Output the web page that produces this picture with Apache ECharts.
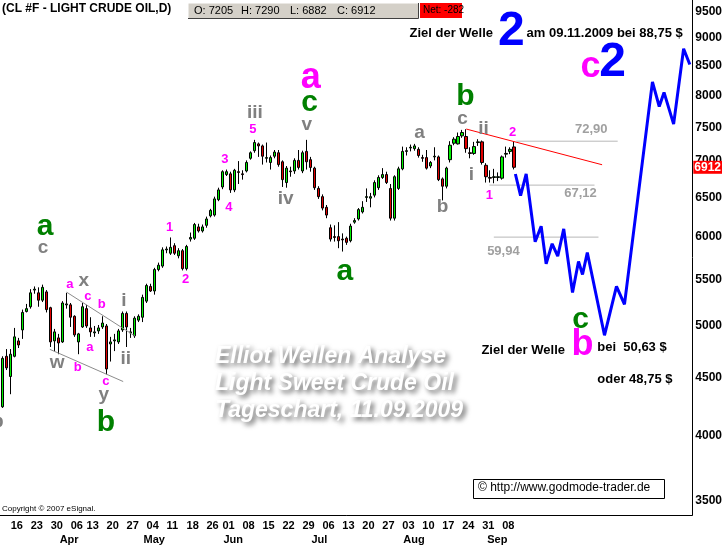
<!DOCTYPE html>
<html><head><meta charset="utf-8">
<script src="https://cdn.jsdelivr.net/npm/echarts@6/dist/echarts.min.js"></script>
<style>html,body{margin:0;padding:0;background:#fff}#c{width:725px;height:545px}</style>
</head><body><div id="c"></div>
<script>
// ---------- data ----------
const dates = ["2009-03-12","2009-03-13","2009-03-16","2009-03-17","2009-03-18","2009-03-19","2009-03-20","2009-03-23","2009-03-24","2009-03-25","2009-03-26","2009-03-27","2009-03-30","2009-03-31","2009-04-01","2009-04-02","2009-04-03","2009-04-06","2009-04-07","2009-04-08","2009-04-09","2009-04-13","2009-04-14","2009-04-15","2009-04-16","2009-04-17","2009-04-20","2009-04-21","2009-04-22","2009-04-23","2009-04-24","2009-04-27","2009-04-28","2009-04-29","2009-04-30","2009-05-01","2009-05-04","2009-05-05","2009-05-06","2009-05-07","2009-05-08","2009-05-11","2009-05-12","2009-05-13","2009-05-14","2009-05-15","2009-05-18","2009-05-19","2009-05-20","2009-05-21","2009-05-22","2009-05-26","2009-05-27","2009-05-28","2009-05-29","2009-06-01","2009-06-02","2009-06-03","2009-06-04","2009-06-05","2009-06-08","2009-06-09","2009-06-10","2009-06-11","2009-06-12","2009-06-15","2009-06-16","2009-06-17","2009-06-18","2009-06-19","2009-06-22","2009-06-23","2009-06-24","2009-06-25","2009-06-26","2009-06-29","2009-06-30","2009-07-01","2009-07-02","2009-07-03","2009-07-06","2009-07-07","2009-07-08","2009-07-09","2009-07-10","2009-07-13","2009-07-14","2009-07-15","2009-07-16","2009-07-17","2009-07-20","2009-07-21","2009-07-22","2009-07-23","2009-07-24","2009-07-27","2009-07-28","2009-07-29","2009-07-30","2009-07-31","2009-08-03","2009-08-04","2009-08-05","2009-08-06","2009-08-07","2009-08-10","2009-08-11","2009-08-12","2009-08-13","2009-08-14","2009-08-17","2009-08-18","2009-08-19","2009-08-20","2009-08-21","2009-08-24","2009-08-25","2009-08-26","2009-08-27","2009-08-28","2009-08-31","2009-09-01","2009-09-02","2009-09-03","2009-09-04","2009-09-08","2009-09-09","2009-09-10","2009-09-11"];
const open  = [4240,4700,4510,4700,4850,4960,5150,5200,5380,5350,5270,5360,5190,4850,4880,4840,5220,5220,5100,4840,4990,5180,4980,4930,4950,4990,5000,4820,4850,4840,4960,5130,4930,4900,5060,5090,5260,5420,5370,5610,5650,5840,5800,5890,5770,5830,5620,5970,5980,6120,6070,6140,6260,6270,6470,6640,6810,6820,6600,6850,6820,6860,7040,7150,7250,7220,7040,6980,7070,7120,6990,6700,6860,6860,7010,6860,7140,7020,6900,6620,6510,6370,6110,6000,6000,5970,5980,5950,6180,6220,6310,6500,6490,6530,6630,6770,6810,6620,6230,6620,6890,7140,7190,7180,7170,7050,7050,6930,7060,7060,6750,6650,7020,7260,7250,7370,7360,7120,7110,7270,7280,6940,6770,6770,6770,6760,7100,7140,7205];
const high  = [4700,4770,4770,4980,4880,5170,5230,5390,5420,5410,5440,5380,5200,4970,4920,5260,5350,5240,5110,4930,5240,5220,5090,5000,5010,5100,5020,4890,4920,4970,5150,5150,4980,5100,5120,5330,5450,5450,5630,5690,5870,5880,5990,5920,5860,5850,5900,6050,6170,6160,6150,6250,6350,6510,6630,6870,6880,6850,6890,7000,6870,7010,7140,7310,7270,7240,7270,7080,7160,7160,7010,6930,6920,7040,7160,7150,7310,7060,6920,6650,6540,6400,6150,6140,6180,6040,6000,6160,6230,6360,6450,6620,6560,6730,6800,6900,6850,6680,6800,6920,7210,7200,7240,7250,7200,7090,7160,7000,7200,7080,6770,6920,7290,7350,7420,7460,7470,7200,7280,7320,7300,6970,6870,6890,6840,7080,7210,7200,7290];
const low   = [4230,4570,4350,4690,4780,4870,5140,5180,5340,5200,5250,5140,4790,4750,4720,4830,5180,4990,4890,4720,4980,4980,4890,4890,4920,4970,4530,4650,4750,4820,4940,4790,4880,4880,5040,5040,5240,5360,5330,5590,5630,5800,5780,5780,5740,5600,5600,5940,5960,6050,6050,6110,6240,6250,6450,6610,6790,6560,6570,6680,6740,6840,7020,7120,7060,6950,6980,6880,7040,6920,6640,6630,6780,6820,6880,6830,6880,6850,6600,6480,6330,6230,5940,5940,5860,5820,5900,5930,6160,6200,6290,6440,6370,6500,6600,6750,6680,6200,6200,6600,6870,7080,7140,7150,7050,6990,6880,6900,7010,6720,6460,6620,6980,7230,7240,7340,7120,7040,7090,7220,6950,6700,6700,6690,6720,6740,7050,7100,6882];
const close = [4680,4590,4720,4890,4810,5140,5180,5350,5390,5270,5410,5170,4840,4940,4830,5240,5230,5090,4910,4920,5200,5000,4940,4940,4980,5030,4580,4840,4860,4950,5130,4990,4940,5080,5100,5300,5430,5370,5610,5660,5840,5850,5870,5800,5830,5620,5880,5990,6150,6070,6120,6220,6330,6480,6600,6850,6850,6600,6870,6840,6810,6980,7120,7270,7220,7070,7050,7050,7130,6950,6740,6900,6850,7010,6910,7120,6990,6910,6630,6510,6360,6270,5970,5990,5950,5960,5930,6130,6200,6340,6370,6510,6510,6700,6770,6810,6700,6230,6780,6890,7140,7150,7200,7220,7080,7040,6900,6980,7070,6740,6650,6900,7230,7320,7360,7420,7180,7110,7210,7280,6980,6780,6760,6780,6780,7060,7110,7170,6912];
const lastPrice = 6912;
const yTicks = [3500,4000,4500,5000,5500,6000,6500,7000,7500,8000,8500,9000,9500];
const monthNames = ["Jan","Feb","Mar","Apr","May","Jun","Jul","Aug","Sep","Oct","Nov","Dec"];

// projected path (bar index, price)
const projIdx   = [128.3,129.6,131.0,133.25,134.75,136.0,137.5,138.9,140.4,142.6,144.1,145.1,146.3,150.6,153.6,155.6,162.6,164.3,165.5,167.9,170.4,171.95];
const projPrice = [6818,6524,6818,5937,6129,5677,5913,5765,6096,5354,5704,5554,5808,4906,5420,5225,8229,7825,8053,7548,8804,8524];
// helper lines
const chanUpIdx = [16.0,33.1],  chanUpPrice = [5357,4899];
const chanLoIdx = [11.8,30.15], chanLoPrice = [4767,4464];
const trendIdx  = [116,150],    trendPrice  = [7473,6948];
const fibLevels = [7290,6665,5994];
const fibFrom   = [128.5,121.8,122.9];
const fibTo     = [153.9,148.1,149.1];

// annotations
const annText  = ["b","a","c","a","x","c","b","i","a","w","b","ii","c","y","b","1","2","3","4","5","iii","a","c","v","iv","a","a","b","b","c","ii","2","i","1","c","2","2","72,90","67,12","59,94","c","b","Ziel der Welle","am 09.11.2009 bei 88,75 $","Ziel der Welle","bei  50,63 $","oder 48,75 $"];
const annIdx   = [-1.2,10.6,10.1,16.8,20.3,21.3,24.8,30.3,21.8,13.6,18.8,30.8,25.8,25.3,25.8,41.8,45.8,55.6,56.6,62.6,63.1,77.1,76.8,76.1,70.8,85.6,104.3,110.1,115.8,115.1,120.3,127.6,117.3,121.8,147.1,152.6,127.3,147.3,144.6,125.3,144.6,145.1,101.8,131.1,119.8,148.8,148.8];
const annPrice = [4109,6127,5870,5444,5478,5313,5227,5259,4789,4636,4598,4673,4468,4342,4101,6115,5500,7020,6366,7462,7725,8296,7883,7538,6484,5590,7417,6379,7980,7631,7477,7417,6808,6523,8484,8554,9111,7462,6550,5823,5068,4809,9092,9092,4760,4789,4486];
const annKind  = ["g","G","g","m","g","m","m","g","m","g","m","g","m","g","G","m","m","m","m","m","g","M","G","g","g","G","g","g","G","g","g","m","g","m","M","B","B","F","F","F","G","M","T","T","T","T","T"];

// ---------- build ----------
const FF = "'Liberation Sans', Arial, sans-serif";
const L = Math.log;
const kindStyle = {
  G:{color:'#008000',fontSize:30},
  M:{color:'#ff00ff',fontSize:36},
  m:{color:'#ff00ff',fontSize:13},
  g:{color:'#808080',fontSize:19},
  B:{color:'#0000ff',fontSize:48},
  F:{color:'#a0a0a0',fontSize:13},
  T:{color:'#000000',fontSize:13}
};
const candles = dates.map((d,i)=>[i, L(open[i]), L(close[i]), L(low[i]), L(high[i])]);
const weekIdx = [], monthIdx = [], weekLbl = {}, monthLbl = {};
dates.forEach((d,i)=>{
  if(i===0) return;
  const cur = new Date(d+'T12:00:00Z'), prev = new Date(dates[i-1]+'T12:00:00Z');
  if(cur.getUTCDay() <= prev.getUTCDay() || (cur-prev) > 4*864e5){ weekIdx.push(i); weekLbl[i] = d.slice(8,10); }
  if(cur.getUTCMonth() !== prev.getUTCMonth()){ monthIdx.push(i); monthLbl[i] = monthNames[cur.getUTCMonth()]; }
});
const pair = (xs,ps)=>xs.map((x,i)=>[x, L(ps[i])]);
const thin = (name,data,color,w)=>({type:'line',name,data,symbol:'none',silent:true,clip:false,
  lineStyle:{color,width:w,opacity:1},z:3,animation:false});
const annData = annText.map((t,i)=>{
  const s = kindStyle[annKind[i]];
  const left = annKind[i]==='T';
  return {value:[annIdx[i], L(annPrice[i])],
    label:{show:true, formatter:t, position:left?'right':'inside', distance:0, opacity:1,
      color:s.color, fontSize:s.fontSize, fontWeight:'bold', fontFamily:FF}};
});

const X0 = -0.675, X1 = 172.575, YMIN = 8.13146, YMAX = 9.18237;
const chart = echarts.init(document.getElementById('c'), null, {renderer:'canvas'});
chart.setOption({
  animation:false,
  backgroundColor:'#ffffff',
  textStyle:{fontFamily:FF},
  grid:{left:0, right:32, top:0, height:516, containLabel:false},
  xAxis:[{
    type:'value', min:X0, max:X1, position:'bottom',
    axisLine:{show:true, onZero:false, lineStyle:{color:'#000',width:1}},
    axisTick:{show:false}, splitLine:{show:false},
    axisLabel:{customValues:weekIdx, formatter:v=>weekLbl[Math.round(v)]||'', align:'left',
      margin:5, color:'#000', fontSize:11, fontWeight:'bold', fontFamily:FF, showMinLabel:true, showMaxLabel:true}
  },{
    type:'value', min:X0, max:X1, position:'bottom', offset:14,
    axisLine:{show:false}, axisTick:{show:false}, splitLine:{show:false},
    axisLabel:{customValues:monthIdx, formatter:v=>monthLbl[Math.round(v)]||'', align:'left',
      margin:5, padding:[0,0,0,1], color:'#000', fontSize:11, fontWeight:'bold', fontFamily:FF}
  }],
  yAxis:{
    type:'value', position:'right', min:YMIN, max:YMAX,
    axisLine:{show:true, onZero:false, lineStyle:{color:'#000',width:1}},
    axisTick:{show:false}, splitLine:{show:false},
    axisLabel:{customValues:yTicks.map(L), formatter:v=>String(Math.round(Math.exp(v))),
      margin:3, color:'#000', fontSize:12, fontWeight:'bold', fontFamily:FF}
  },
  series:[
    {type:'candlestick', name:'CL', data:candles, encode:{x:0,y:[1,2,3,4]}, barWidth:3, clip:false,
     itemStyle:{color:'#00f000', color0:'#e00000', borderColor:'#000', borderColor0:'#000', borderWidth:1, opacity:1},
     z:2},
    thin('chanUp', pair(chanUpIdx,chanUpPrice), '#8c8c8c', 1),
    thin('chanLo', pair(chanLoIdx,chanLoPrice), '#8c8c8c', 1),
    thin('trend',  pair(trendIdx,trendPrice),  '#ff0000', 1),
    ...fibLevels.map((v,i)=>thin('fib'+i, [[fibFrom[i],L(v)],[fibTo[i],L(v)]], '#b8b8b8', 1)),
    {type:'line', name:'projection', data:pair(projIdx,projPrice), symbol:'none', clip:false, silent:true,
     lineStyle:{color:'#0000ff', width:3, opacity:1}, z:4},
    {type:'scatter', name:'labels', data:annData, symbolSize:0, clip:false, silent:true, z:6,
     itemStyle:{opacity:1}},
    {type:'scatter', name:'last', data:[[X1, L(lastPrice)]], symbolSize:0, clip:false, silent:true, z:10,
     itemStyle:{opacity:1},
     label:{show:true, position:'right', distance:1, formatter:String(lastPrice), backgroundColor:'#ff0000', color:'#fff',
       fontWeight:'bold', fontSize:12, fontFamily:FF, padding:[1,1,0,1], opacity:1}}
  ],
  graphic:[
    {type:'text', left:2, top:3, style:{text:'(CL #F - LIGHT CRUDE OIL,D)', fill:'#000', fontSize:12, fontWeight:'bold', fontFamily:FF}},
    {type:'rect', shape:{x:188,y:3,width:230,height:15}, style:{fill:'#d4d0c8', stroke:null}},
    {type:'polyline', shape:{points:[[188,18],[188,3],[418,3]]}, style:{stroke:'#ffffff', lineWidth:1, fill:null}},
    {type:'polyline', shape:{points:[[188,18.5],[418.5,18.5],[418.5,3]]}, style:{stroke:'#404040', lineWidth:1, fill:null}},
    {type:'text', x:194, y:5, style:{text:'O: 7205', fill:'#000', fontSize:11, fontFamily:FF}},
    {type:'text', x:241, y:5, style:{text:'H: 7290', fill:'#000', fontSize:11, fontFamily:FF}},
    {type:'text', x:290, y:5, style:{text:'L: 6882', fill:'#000', fontSize:11, fontFamily:FF}},
    {type:'text', x:337, y:5, style:{text:'C: 6912', fill:'#000', fontSize:11, fontFamily:FF}},
    {type:'rect', shape:{x:420,y:3,width:42,height:15}, style:{fill:'#ff0000'}},
    {type:'text', x:423, y:5, style:{text:'Net: -282', fill:'#000', fontSize:10, fontFamily:FF}},
    {type:'text', x:215, y:345, style:{text:'Elliot Wellen Analyse', fill:'#ffffff', fontSize:23, fontStyle:'italic', fontWeight:'bold', fontFamily:FF,
      textShadowColor:'rgba(0,0,0,0.6)', textShadowBlur:5, textShadowOffsetX:3, textShadowOffsetY:3}},
    {type:'text', x:215, y:372, style:{text:'Light Sweet Crude Oil', fill:'#ffffff', fontSize:23, fontStyle:'italic', fontWeight:'bold', fontFamily:FF,
      textShadowColor:'rgba(0,0,0,0.6)', textShadowBlur:5, textShadowOffsetX:3, textShadowOffsetY:3}},
    {type:'text', x:215, y:399, style:{text:'Tageschart, 11.09.2009', fill:'#ffffff', fontSize:23, fontStyle:'italic', fontWeight:'bold', fontFamily:FF,
      textShadowColor:'rgba(0,0,0,0.6)', textShadowBlur:5, textShadowOffsetX:3, textShadowOffsetY:3}},
    {type:'rect', shape:{x:473.5,y:479.5,width:191,height:19}, style:{fill:'#fff', stroke:'#000', lineWidth:1}},
    {type:'text', x:478, y:482, style:{text:'\u00a9 http://www.godmode-trader.de', fill:'#000', fontSize:12, fontFamily:FF}},
    {type:'text', x:2, y:505, style:{text:'Copyright \u00a9 2007 eSignal.', fill:'#000', fontSize:8, fontFamily:FF}}
  ]
});
</script></body></html>
